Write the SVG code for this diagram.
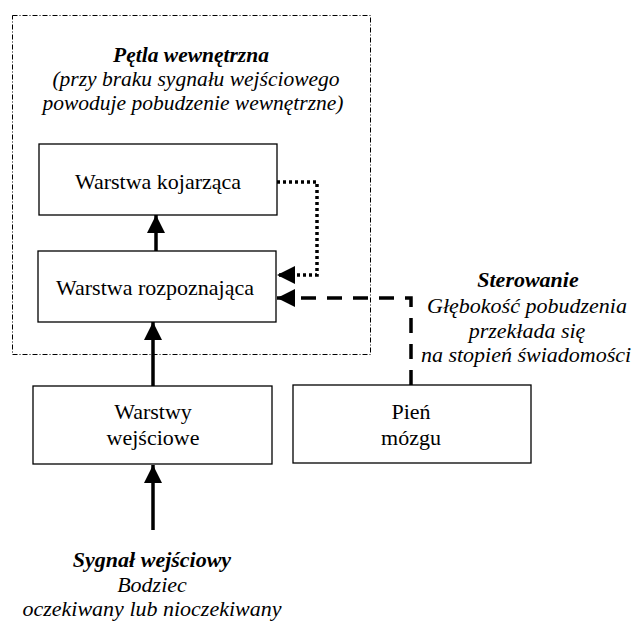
<svg xmlns="http://www.w3.org/2000/svg" width="639" height="622" viewBox="0 0 639 622">
  <style>
    .box { fill: #fff; stroke: #000; stroke-width: 1.3; }
    text { font-family: 'Liberation Serif', 'Times New Roman', serif; font-size: 22px; fill: #000; text-anchor: middle; }
    .it { font-style: italic; }
    .bi { font-style: italic; font-weight: bold; }
    .sm { font-size: 21.5px; }
    .solid { fill: none; stroke: #000; stroke-width: 3.5; }
    .dotted { fill: none; stroke: #000; stroke-width: 3.5; stroke-dasharray: 3 3; }
    .dashed { fill: none; stroke: #000; stroke-width: 3.5; stroke-dasharray: 15 11; }
    .frame { fill: none; stroke: #000; stroke-width: 1; stroke-dasharray: 5 2 1 2; }
  </style>
  <defs>
    <marker id="head" markerUnits="userSpaceOnUse" markerWidth="18" markerHeight="18" refX="18" refY="9" orient="auto">
      <path d="M0,0 L18,9 L0,18 Z" fill="#000"/>
    </marker>
  </defs>
  <rect width="639" height="622" fill="#fff"/>

  <!-- dash-dot frame around the inner loop -->
  <g id="inner-loop">
    <rect class="frame" x="12.5" y="15.5" width="358" height="339"/>
    <text class="bi sm" x="191" y="62">Pętla wewnętrzna</text>
    <text class="it sm" x="196" y="86">(przy braku sygnału wejściowego</text>
    <text class="it sm" x="193" y="110">powoduje pobudzenie wewnętrzne)</text>
  </g>

  <g id="connectors">
    <path class="solid" d="M156,251 V215" marker-end="url(#head)"/>
    <path class="solid" d="M153,386 V322" marker-end="url(#head)"/>
    <path class="solid" d="M153,530 V465" marker-end="url(#head)"/>
    <path class="dotted" d="M277,182 H317 V275 H277" marker-end="url(#head)"/>
    <path class="dashed" d="M411,385 V298 H277" marker-end="url(#head)"/>
  </g>

  <g id="warstwa-kojarzaca">
    <rect class="box" x="39" y="144" width="238" height="71"/>
    <text x="158" y="189">Warstwa kojarząca</text>
  </g>

  <g id="warstwa-rozpoznajaca">
    <rect class="box" x="38" y="251" width="238" height="71"/>
    <text x="155" y="295">Warstwa rozpoznająca</text>
  </g>

  <g id="warstwy-wejsciowe">
    <rect class="box" x="33" y="386" width="239" height="78"/>
    <text x="153" y="419">Warstwy</text>
    <text x="153" y="445">wejściowe</text>
  </g>

  <g id="pien-mozgu">
    <rect class="box" x="293" y="385" width="238" height="78"/>
    <text x="411" y="419">Pień</text>
    <text x="411" y="445">mózgu</text>
  </g>

  <g id="sterowanie">
    <text class="bi" x="528" y="287">Sterowanie</text>
    <text class="it" x="527" y="313">Głębokość pobudzenia</text>
    <text class="it" x="527" y="338">przekłada się</text>
    <text class="it" x="526" y="362">na stopień świadomości</text>
  </g>

  <g id="sygnal-wejsciowy">
    <text class="bi" x="152" y="567">Sygnał wejściowy</text>
    <text class="it" x="152" y="592">Bodziec</text>
    <text class="it" x="152" y="616">oczekiwany lub nioczekiwany</text>
  </g>
</svg>
